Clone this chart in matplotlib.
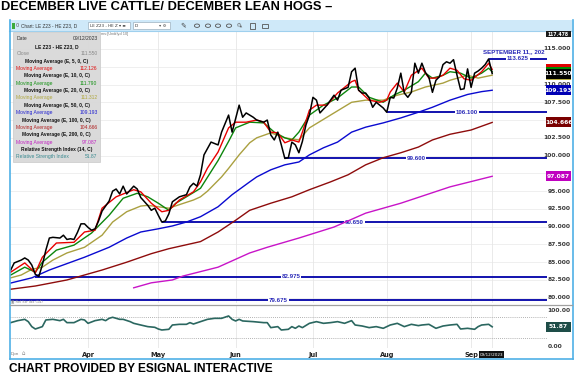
import matplotlib
matplotlib.use("Agg")
import matplotlib.pyplot as plt
import matplotlib.transforms as mtransforms
from matplotlib.patches import Rectangle, Circle
from matplotlib.lines import Line2D
from matplotlib import font_manager

W, H = 588, 384

# ---------------- data ----------------
close_days = [0, 1, 3, 4, 5, 6, 7, 8, 9, 10, 11, 12, 14, 15, 16, 17, 18, 19, 20, 21,
              22, 23, 24, 25, 26, 27, 28, 29, 30, 31, 32, 33, 35, 36, 37, 39, 40, 41, 42, 43,
              44, 45, 46, 48, 50, 51, 52, 53, 54, 55, 57, 59, 60, 62, 63, 65, 66, 67, 69, 70,
              72, 73, 74, 75, 76, 77, 78, 79, 80, 81, 82, 83, 84, 85, 86, 87, 88, 90, 92, 93,
              94, 96, 97, 98, 99, 100, 101, 102, 103, 104, 105, 106, 107, 108, 109, 110, 111, 112, 113, 114,
              115, 116, 117, 118, 119, 120, 121, 122, 123, 124, 125, 126, 127, 128, 129, 130, 131, 132, 133, 134,
              135, 136, 137]
close_vals = [83.9, 84.9, 85.3, 85.6, 85.3, 84.6, 83.3, 83.0, 84.6, 86.7, 88.4, 88.5, 88.4, 88.8, 88.2, 88.3, 88.2, 89.2, 90.4, 90.4,
              89.9, 89.5, 89.7, 90.8, 92.2, 92.9, 93.6, 95.0, 95.3, 94.6, 95.7, 94.6, 95.7, 95.3, 94.1, 93.0, 92.3, 92.6, 91.6, 90.65,
              90.8, 91.8, 93.5, 94.2, 94.5, 95.6, 96.1, 95.7, 97.3, 100.1, 101.9, 101.5, 103.3, 105.7, 103.3, 107.1, 105.4, 106.0, 105.4, 105.0,
              104.7, 105.0, 102.9, 102.2, 103.3, 101.5, 99.6, 99.7, 101.9, 101.5, 100.4, 102.0, 104.3, 105.7, 108.2, 107.8, 106.0, 107.1, 108.5, 107.8,
              109.2, 109.6, 111.8, 112.3, 109.2, 108.8, 108.8, 108.1, 106.8, 107.5, 107.1, 106.7, 106.1, 108.2, 108.1, 109.5, 111.6, 108.8, 108.2, 108.9,
              113.0, 111.6, 113.0, 111.7, 111.0, 108.9, 110.6, 111.1, 112.8, 113.2, 113.0, 113.5, 111.3, 109.3, 109.4, 112.2, 109.6, 111.6, 111.9, 112.3,
              112.8, 113.6, 111.55]

ema5_days = [0, 4, 7, 9, 13, 18, 21, 24, 26, 30, 35, 37, 40, 43, 45, 48, 52, 54, 56, 59,
             62, 64, 67, 70, 72, 74, 76, 78, 80, 82, 83, 85, 87, 90, 93, 97, 98, 99, 102, 105,
             107, 108, 110, 112, 114, 117, 119, 121, 123, 125, 127, 129, 131, 134, 136, 137]
ema5_vals = [83.6, 84.9, 83.5, 85.7, 87.7, 87.8, 89.25, 89.5, 92.6, 94.2, 95.2, 94.9, 93.3, 92.1, 92.3, 93.75, 94.9, 96.3, 98.25, 100.5,
             103.9, 104.7, 104.7, 105.0, 104.7, 103.3, 103.2, 101.8, 102.2, 101.9, 103.3, 106.4, 107.1, 107.1, 108.8, 110.4, 110.6, 109.2, 107.8, 107.5,
             107.8, 108.95, 110.2, 108.95, 111.3, 112.3, 110.9, 110.9, 111.3, 112.3, 112.0, 110.8, 110.6, 111.8, 113.0, 112.126]

ema10_days = [0, 4, 7, 9, 13, 18, 23, 28, 32, 36, 39, 42, 45, 47, 51, 54, 59, 62, 64, 68,
              72, 75, 78, 80, 82, 85, 89, 93, 97, 99, 102, 106, 109, 112, 116, 118, 120, 123, 125, 128,
              131, 134, 136, 137]
ema10_vals = [83.2, 84.3, 83.6, 85.0, 86.7, 87.4, 89.1, 91.6, 94.0, 94.7, 94.2, 93.3, 92.3, 93.3, 94.5, 95.4, 99.3, 102.0, 103.9, 104.7,
              104.6, 103.3, 102.5, 102.2, 103.3, 105.7, 107.1, 108.1, 109.65, 109.65, 108.2, 107.5, 108.5, 109.2, 110.4, 111.6, 110.9, 111.3, 111.8, 111.6,
              110.9, 111.6, 112.3, 111.79]

ema20_days = [0, 3, 6, 9, 12, 16, 21, 26, 29, 33, 37, 39, 42, 45, 48, 52, 54, 56, 58, 60,
              62, 65, 68, 70, 74, 78, 82, 85, 91, 97, 101, 106, 110, 114, 118, 123, 125, 130, 133, 137]
ema20_vals = [82.8, 83.2, 84.0, 84.3, 85.3, 86.3, 87.1, 88.8, 90.65, 92.1, 92.9, 93.0, 92.8, 92.6, 93.1, 93.75, 94.2, 95.0, 96.0, 97.0,
              98.2, 100.1, 101.8, 102.5, 103.2, 102.5, 102.2, 103.9, 105.7, 107.5, 107.8, 107.8, 108.5, 108.95, 109.65, 110.2, 110.6, 111.3, 110.9, 111.312]

ema50_days = [0, 6, 11, 21, 28, 33, 37, 42, 46, 50, 54, 59, 63, 68, 70, 74, 78, 82, 85, 89,
              93, 97, 101, 106, 111, 116, 120, 125, 130, 134, 137]
ema50_vals = [82.07, 82.8, 83.9, 85.7, 87.1, 88.4, 89.25, 89.7, 90.1, 90.65, 91.4, 92.8, 94.5, 96.3, 97.0, 98.0, 98.7, 99.1, 100.1, 101.1,
              101.9, 103.3, 104.0, 104.6, 105.3, 106.1, 106.8, 107.8, 108.6, 109.0, 109.193]

ema100_days = [0, 7, 16, 26, 33, 40, 45, 54, 59, 64, 68, 74, 80, 85, 91, 96, 101, 106, 111, 116,
               120, 125, 131, 137]
ema100_vals = [81.2, 81.65, 82.5, 83.9, 85.0, 86.2, 86.9, 87.9, 89.25, 90.9, 92.3, 93.3, 94.2, 95.2, 96.3, 97.3, 98.7, 99.7, 100.4, 101.2,
               102.2, 103.0, 103.6, 104.666]

ema200_days = [35, 40, 46, 49, 59, 68, 73, 82, 92, 101, 111, 125, 137]
ema200_vals = [81.4, 82.1, 82.5, 83.05, 84.3, 86.3, 87.1, 88.4, 89.95, 91.9, 93.3, 95.6, 97.087]

rsi_days = [0, 2, 4, 5, 6, 7, 9, 10, 12, 14, 15, 16, 18, 20, 21, 22, 24, 26, 27, 28,
            29, 31, 32, 34, 35, 37, 39, 41, 42, 43, 45, 46, 48, 50, 51, 52, 54, 56, 58, 60,
            62, 63, 64, 65, 66, 69, 72, 73, 74, 76, 77, 79, 80, 81, 82, 83, 85, 87, 89, 91,
            93, 95, 97, 98, 100, 102, 104, 106, 108, 110, 112, 114, 116, 117, 119, 121, 123, 125, 127, 128,
            130, 132, 133, 134, 136, 137]
rsi_vals = [59.8, 63.6, 66.1, 61.7, 52.2, 47.7, 52.2, 64.9, 66.1, 63.6, 66.1, 59.8, 59.8, 66.1, 64.9, 58.5, 63.6, 66.1, 63.6, 68.0,
            70.0, 66.1, 66.1, 61.7, 58.5, 55.3, 52.2, 50.9, 47.7, 45.8, 47.1, 55.3, 56.6, 56.6, 59.8, 57.2, 61.7, 66.1, 68.0, 68.0,
            72.5, 66.1, 63.0, 66.1, 63.0, 61.7, 59.8, 59.8, 50.3, 52.2, 45.8, 47.1, 52.2, 49.0, 53.4, 50.3, 58.5, 61.7, 58.5, 59.8,
            61.7, 58.5, 63.6, 55.3, 53.4, 50.3, 52.2, 49.0, 55.3, 58.5, 52.2, 56.6, 54.1, 55.3, 56.6, 49.0, 53.4, 55.3, 56.6, 47.7,
            49.0, 47.1, 52.2, 55.3, 56.6, 51.87]

level_vals = [113.625, 106.100, 99.600, 90.650, 82.975, 79.675]
level_start = [136, 107, 78, 43, 7, None]
level_texts = ["113.625", "106.100", "99.600", "90.650", "82.975", "79.675"]

month_labels = ["Apr", "May", "Jun", "Jul", "Aug", "Sep"]
month_days = [22, 42, 64, 86, 107, 131]
last_day = 137

price_ticks = [80.0, 82.5, 85.0, 87.5, 90.0, 92.5, 95.0, 97.5, 100.0, 102.5,
               105.0, 107.5, 110.0, 112.5, 115.0]

# right-side value boxes: (value, text, colour) in drawing order; empty text = box hidden behind others
value_boxes = [(112.126, "", "#e00000"),
               (111.790, "", "#008a00"),
               (111.312, "", "#b4aa3c"),
               (111.550, "111.550", "#000000"),
               (109.193, "109.193", "#0000b4"),
               (104.666, "104.666", "#7a0000"),
               (97.087, "97.087", "#c000c0")]

info_rows = [("Date", "09/12/2023", "l", "#333333", "#333333"),
             ("LE Z23 - HE Z23, D", "", "c", "#111111", None),
             ("Close", "111.550", "l", "#8a8a8a", "#8a8a8a"),
             ("Moving Average (E, 5, 0, C)", "", "c", "#111111", None),
             ("Moving Average", "112.126", "l", "#e01010", "#e01010"),
             ("Moving Average (E, 10, 0, C)", "", "c", "#111111", None),
             ("Moving Average", "111.790", "l", "#129012", "#129012"),
             ("Moving Average (E, 20, 0, C)", "", "c", "#111111", None),
             ("Moving Average", "111.312", "l", "#b0a840", "#b0a840"),
             ("Moving Average (E, 50, 0, C)", "", "c", "#111111", None),
             ("Moving Average", "109.193", "l", "#2020d0", "#2020d0"),
             ("Moving Average (E, 100, 0, C)", "", "c", "#111111", None),
             ("Moving Average", "104.666", "l", "#b02020", "#b02020"),
             ("Moving Average (E, 200, 0, C)", "", "c", "#111111", None),
             ("Moving Average", "97.087", "l", "#c020c0", "#c020c0"),
             ("Relative Strength Index (14, C)", "", "c", "#111111", None),
             ("Relative Strength Index", "51.87", "l", "#3a8a90", "#3a8a90")]

# ---------------- figure ----------------
fig = plt.figure(figsize=(W / 100, H / 100), dpi=100)
fig.patch.set_facecolor("white")


def FX(px):
    return px / W


def FY(py):
    return 1 - py / H


avail = {f.name for f in font_manager.fontManager.ttflist}
head_font = "Liberation Sans Narrow" if "Liberation Sans Narrow" in avail else "Liberation Sans"
small_font = "DejaVu Sans"
lab_font = "Liberation Sans"

XL = (-0.2, 152.6)
YL = (79.26, 117.53)
RL = (11.5, 93.4)
PX_PER_UNIT = 272 / (YL[1] - YL[0])

# frame / toolbar
fig.add_artist(Rectangle((FX(9), FY(31)), FX(572) - FX(9), 11 / H, transform=fig.transFigure,
                         fc="#cfe9f9", ec="none", zorder=1))
fig.add_artist(Line2D([FX(9), FX(572)], [FY(31)] * 2, color="#9fd0ee", lw=0.8, zorder=1.1))
fig.add_artist(Line2D([FX(9.5)] * 2, [FY(20), FY(358.5)], color="#4fb0e6", lw=1.2, zorder=2))
fig.add_artist(Line2D([FX(572.5)] * 2, [FY(20), FY(358.5)], color="#4fb0e6", lw=1.2, zorder=2))
fig.add_artist(Line2D([FX(9.5), FX(572.5)], [FY(358.5)] * 2, color="#4fb0e6", lw=1.2, zorder=2))

fig.add_artist(Rectangle((FX(12), FY(29)), 2.5 / W, 6 / H, transform=fig.transFigure, fc="#3caa3c", ec="none", zorder=2))
fig.text(FX(15.5), FY(25.7), "0", fontsize=3.6, color="#555555", va="center", family=small_font, zorder=3)
fig.text(FX(21), FY(25.7), "Chart: LE Z23 - HE Z23, D", fontsize=3.4, color="#333333", va="center",
         family=lab_font, zorder=3)
fig.add_artist(Rectangle((FX(88), FY(29)), 42 / W, 6.5 / H, transform=fig.transFigure, fc="white", ec="#8aa0b0", lw=0.4, zorder=2))
fig.text(FX(90), FY(25.7), "LE Z23 - HE Z \u25be \u2261", fontsize=3.0, color="#333333", va="center",
         family="DejaVu Sans", zorder=3)
fig.add_artist(Rectangle((FX(133), FY(29)), 37 / W, 6.5 / H, transform=fig.transFigure, fc="white", ec="#8aa0b0", lw=0.4, zorder=2))
fig.text(FX(135), FY(25.7), "D", fontsize=3.2, color="#333333", va="center", family="DejaVu Sans", zorder=3)
fig.text(FX(159), FY(25.7), "\u25be \u2699", fontsize=3.2, color="#555555", va="center", family="DejaVu Sans", zorder=3)
fig.text(FX(183), FY(25.7), "\u270e", fontsize=5, color="#444444", va="center", ha="center", family="DejaVu Sans", zorder=3)
for cx in [197, 208, 218, 229]:
    fig.add_artist(Circle((FX(cx), FY(25.7)), 2.6 / W, transform=fig.transFigure, fc="none", ec="#555555", lw=0.6, zorder=3))
fig.text(FX(240), FY(25.7), "\u2640", fontsize=4.5, color="#555555", va="center", ha="center", family="DejaVu Sans", zorder=3, rotation=45)
fig.add_artist(Rectangle((FX(250), FY(28.5)), 5 / W, 5.5 / H, transform=fig.transFigure, fc="none", ec="#555555", lw=0.6, zorder=3))
fig.add_artist(Rectangle((FX(262), FY(28)), 6 / W, 4.5 / H, transform=fig.transFigure, fc="none", ec="#555555", lw=0.6, zorder=3))

# ---------------- price panel ----------------
ax = fig.add_axes([FX(10), FY(303), FX(547) - FX(10), FY(31) - FY(303)])
ax.set_xlim(XL)
ax.set_ylim(YL)
for s in ax.spines.values():
    s.set_visible(False)
ax.set_xticks([])
ax.set_yticks([])
for v in price_ticks + [117.5]:
    ax.axhline(v, color="#ececec", lw=0.6, zorder=0)
for d in month_days + [last_day]:
    ax.axvline(d, color="#e6e6e6", lw=0.6, zorder=0)

for i, (v, s, t) in enumerate(zip(level_vals, level_start, level_texts)):
    x0 = XL[0] if s is None else s
    ax.plot([x0, XL[1]], [v, v], color="#0000a8", lw=1.3, zorder=2, solid_capstyle="butt")
    ax.text((x0 + XL[1]) / 2, v, t, ha="center", va="center", fontsize=4.4, color="#2a2ab8",
            fontweight="bold", family=lab_font,
            bbox=dict(boxstyle="square,pad=0.12", fc="white", ec="none"), zorder=2.5)
ax.text(151.9, 114.6, "SEPTEMBER 11,, 202", fontsize=4.4, color="#2a2ab8", fontweight="bold",
        family=lab_font, ha="right", va="center", zorder=2.5)
ax.text(76.2, 78.85, "JANUARY 30, 2023", fontsize=4.4, color="#8a8ad0", fontweight="bold",
        family=lab_font, ha="center", va="center", clip_on=True, zorder=2.5)

ax.plot(ema200_days, ema200_vals, color="#c814c8", lw=1.0, zorder=3)
ax.plot(ema100_days, ema100_vals, color="#8e0c0c", lw=1.0, zorder=3)
ax.plot(ema50_days, ema50_vals, color="#0a0ad0", lw=1.0, zorder=3)
ax.plot(ema20_days, ema20_vals, color="#aaa040", lw=1.0, zorder=3)
ax.plot(ema10_days, ema10_vals, color="#0c860c", lw=1.0, zorder=3)
ax.plot(ema5_days, ema5_vals, color="#e80000", lw=1.0, zorder=3)
ax.plot(close_days, close_vals, color="black", lw=1.1, zorder=4)

# right axis labels (those covered by a value box are not visible)
trans = mtransforms.blended_transform_factory(fig.transFigure, ax.transData)
box_vals = [b[0] for b in value_boxes]
for v in price_ticks:
    if any(abs(v - bv) * PX_PER_UNIT < 4.5 for bv in box_vals):
        continue
    ax.text(FX(570.5), v, f"{v:.3f}", transform=trans, ha="right", va="center", fontsize=4.3,
            fontweight="bold", color="#3a3a3a", family=small_font, clip_on=False)


def val_fy(axis, v):
    return fig.transFigure.inverted().transform(axis.transData.transform((0, v)))[1]


# top box
fig.add_artist(Rectangle((FX(546), FY(37)), 25 / W, 6 / H, transform=fig.transFigure, fc="#1a1a1a", ec="none", zorder=10))
fig.text(FX(558.5), FY(34), "117.478", fontsize=3.3, color="white", ha="center", va="center",
         family=small_font, fontweight="bold", zorder=11)

for i, (v, t, c) in enumerate(value_boxes):
    yc = val_fy(ax, v)
    fig.add_artist(Rectangle((FX(546), yc - 5 / H), 25 / W, 10 / H, transform=fig.transFigure,
                             fc=c, ec="none", zorder=12 + 2 * i))
    if t:
        fig.text(FX(558.5), yc, t, fontsize=4.3, color="white", ha="center", va="center",
                 family=small_font, fontweight="bold", zorder=13 + 2 * i)

# ---------------- RSI panel ----------------
rax = fig.add_axes([FX(10), FY(348), FX(547) - FX(10), FY(305) - FY(348)])
rax.set_xlim(XL)
rax.set_ylim(RL)
for s in rax.spines.values():
    s.set_visible(False)
rax.set_yticks([])
for d in month_days + [last_day]:
    rax.axvline(d, color="#e6e6e6", lw=0.6, zorder=0)
rax.axhline(70, color="#9a9a9a", lw=0.6, ls=(0, (1, 1.5)), zorder=1)
rax.axhline(30, color="#9a9a9a", lw=0.6, ls=(0, (1, 1.5)), zorder=1)
rax.plot(rsi_days, rsi_vals, color="#2b6760", lw=1.2, zorder=3)
rax.set_xticks(month_days)
rax.set_xticklabels(month_labels, fontsize=4.8, fontweight="bold", family=small_font, color="#222222")
rax.tick_params(axis="x", length=0, pad=2.6)

fig.text(FX(547.5), FY(310.7), "100.00", fontsize=4.3, fontweight="bold", color="#3a3a3a",
         va="center", ha="left", family=small_font)
fig.text(FX(547.5), FY(346), "0.00", fontsize=4.3, fontweight="bold", color="#3a3a3a",
         va="center", ha="left", family=small_font)
yr = val_fy(rax, rsi_vals[-1])
fig.add_artist(Rectangle((FX(546), yr - 5 / H), 25 / W, 10 / H, transform=fig.transFigure,
                         fc="#1e4d48", ec="none", zorder=30))
fig.text(FX(558.5), yr, f"{rsi_vals[-1]:.2f}", fontsize=4.3, color="white", ha="center", va="center",
         family=small_font, fontweight="bold", zorder=31)

# separator between panels
fig.add_artist(Line2D([FX(10), FX(572)], [FY(304.5)] * 2, color="#a0a0a0", lw=0.9, zorder=2))
fig.text(FX(11), FY(301.8), "\u25a3 Rel Str Idx (14)", fontsize=2.6, color="#888888", va="center",
         family=small_font, zorder=3)

# bottom date box / misc
fig.add_artist(Rectangle((FX(479), FY(358)), 25 / W, 7 / H, transform=fig.transFigure, fc="#111111", ec="none", zorder=5))
fig.text(FX(491.5), FY(354.5), "09/12/2023", fontsize=3.0, color="white", ha="center", va="center",
         family=small_font, zorder=6)
fig.text(FX(11), FY(354), "Dpn", fontsize=3.0, color="#777777", va="center", family=small_font)
fig.text(FX(22), FY(353.5), "\u2302", fontsize=4.0, color="#888888", va="center", family=small_font)

# ---------------- info box ----------------
fig.add_artist(Rectangle((FX(13), FY(162)), 87 / W, 130 / H, transform=fig.transFigure,
                         fc="#d9d9d9", ec="#c8c8c8", lw=0.5, alpha=0.97, zorder=40))
for i, (lab, val, mode, c1, c2) in enumerate(info_rows):
    yy = FY(39 + i * 7.37)
    if mode == "c":
        fig.text(FX(56.5), yy, lab, fontsize=3.5, fontweight="bold", color=c1, ha="center", va="center",
                 family=lab_font, zorder=41)
    else:
        fig.text(FX(16.5), yy, lab, fontsize=3.6, color=c1, ha="left", va="center",
                 family=lab_font, zorder=41)
        fig.text(FX(97.5), yy, val, fontsize=3.6, color=c2, ha="right", va="center",
                 family=lab_font, zorder=41)
fig.text(FX(101), FY(34.5), "ms:[Undrlyd 10]", fontsize=2.8, color="#777777", va="center",
         family=lab_font, zorder=3)

# ---------------- headline texts ----------------
r = fig.canvas.get_renderer()
title = fig.text(FX(1), FY(6.5), "DECEMBER LIVE CATTLE/ DECEMBER LEAN HOGS \u2013", fontsize=11,
                 fontweight="bold", family=[head_font, "DejaVu Sans"], va="center", ha="left", color="black")
bb = title.get_window_extent(renderer=r)
title.set_fontsize(11 * 330 / bb.width)
foot = fig.text(FX(9), FY(369), "CHART PROVIDED BY ESIGNAL INTERACTIVE", fontsize=9,
                fontweight="bold", family=[head_font, "DejaVu Sans"], va="center", ha="left", color="black")
bb = foot.get_window_extent(renderer=r)
foot.set_fontsize(9 * 267 / bb.width)

fig.savefig("out.png", dpi=100, facecolor="white")
